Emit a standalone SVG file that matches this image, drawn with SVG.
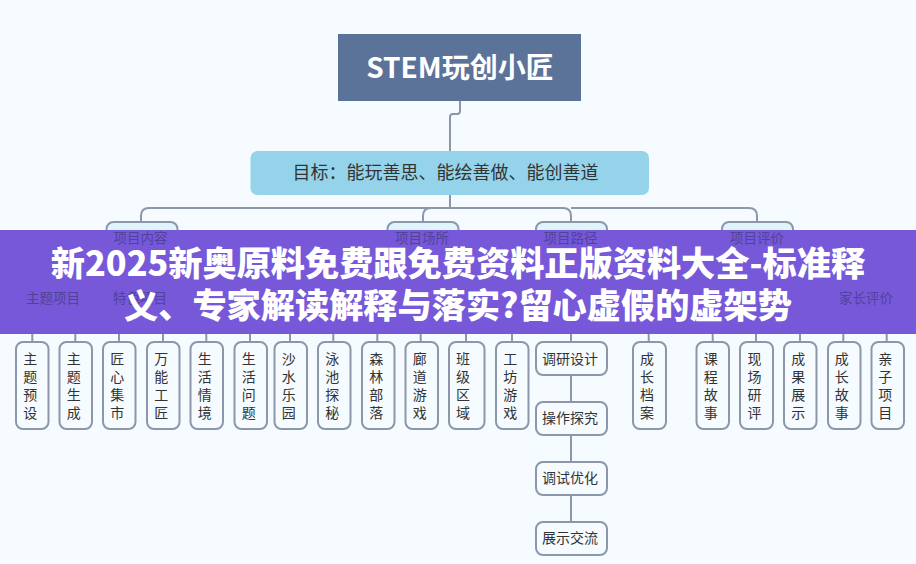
<svg xmlns="http://www.w3.org/2000/svg" width="916" height="564" viewBox="0 0 916 564">
<style>
text{font-family:"Noto Sans CJK SC","Noto Sans",sans-serif;text-anchor:middle}
.c{fill:none;stroke:#8c98aa;stroke-width:2}
.b{fill:#f5fbff;stroke:#8c98aa;stroke-width:2}
.l2{fill:#e0f4fc;stroke:#8c98aa;stroke-width:2}
.t{font-size:14px;fill:#333}
.g{font-size:13.5px;fill:#51439a}
.h{font-size:34.2px;font-weight:900;fill:#fff}
</style>
<rect width="916" height="564" fill="#f5fbff"/>
<g id="connectors" class="c">
<path d="M460 101V111Q460 114 457 114H453Q450 114 450 117V151"/>
<path d="M450 195V208"/>
<path d="M450 208H149Q141 208 141 216V222"/>
<path d="M450 208H431Q423 208 423 216V222"/>
<path d="M450 208H563Q571 208 571 216V222"/>
<path d="M571 208H749Q757 208 757 216V222"/>
<path d="M32.300 326V342M75.300 326V342M119 326V342M163 326V342M206.300 326V342M250 326V342M290 326V342M333.300 326V342M377.300 326V342M420.700 326V342M466 326V342M512 326V342M571 326V342M648.700 326V342M712.700 326V342M756 326V342M800 326V342M843.300 326V342M886.700 326V342"/>
<path d="M571 375V402M571 435V462M571 495V522"/>
</g>
<g id="root"><rect x="338" y="34" width="243" height="67" fill="#5b7399"/><text x="460" y="77.500" font-size="28" font-weight="700" fill="#fff">STEM玩创小匠</text></g>
<g id="goal"><rect x="250.500" y="151" width="398.500" height="44" rx="7" fill="#94d3ea"/><text x="445.500" y="179" font-size="18" fill="#333">目标：能玩善思、能绘善做、能创善道</text></g>
<g id="l2-content"><rect class="l2" x="106.500" y="222" width="71" height="34" rx="7"/></g>
<g id="l2-place"><rect class="l2" x="387.500" y="222" width="71" height="34" rx="7"/></g>
<g id="l2-path"><rect class="l2" x="536" y="222" width="71" height="34" rx="7"/></g>
<g id="l2-eval"><rect class="l2" x="722" y="222" width="71" height="34" rx="7"/></g>
<g id="n1"><rect class="b" x="16" y="342" width="32.500" height="87" rx="7"/><text class="t" x="30.300" y="364">主</text><text class="t" x="30.300" y="382">题</text><text class="t" x="30.300" y="400">预</text><text class="t" x="30.300" y="418">设</text></g>
<g id="n2"><rect class="b" x="59.500" y="342" width="32.500" height="87" rx="7"/><text class="t" x="73.800" y="364">主</text><text class="t" x="73.800" y="382">题</text><text class="t" x="73.800" y="400">生</text><text class="t" x="73.800" y="418">成</text></g>
<g id="n3"><rect class="b" x="103" y="342" width="32.500" height="87" rx="7"/><text class="t" x="117.300" y="364">匠</text><text class="t" x="117.300" y="382">心</text><text class="t" x="117.300" y="400">集</text><text class="t" x="117.300" y="418">市</text></g>
<g id="n4"><rect class="b" x="147" y="342" width="32.500" height="87" rx="7"/><text class="t" x="161.300" y="364">万</text><text class="t" x="161.300" y="382">能</text><text class="t" x="161.300" y="400">工</text><text class="t" x="161.300" y="418">匠</text></g>
<g id="n5"><rect class="b" x="190.500" y="342" width="32.500" height="87" rx="7"/><text class="t" x="204.800" y="364">生</text><text class="t" x="204.800" y="382">活</text><text class="t" x="204.800" y="400">情</text><text class="t" x="204.800" y="418">境</text></g>
<g id="n6"><rect class="b" x="234.500" y="342" width="32.500" height="87" rx="7"/><text class="t" x="248.800" y="364">生</text><text class="t" x="248.800" y="382">活</text><text class="t" x="248.800" y="400">问</text><text class="t" x="248.800" y="418">题</text></g>
<g id="n7"><rect class="b" x="274.500" y="342" width="32.500" height="87" rx="7"/><text class="t" x="288.800" y="364">沙</text><text class="t" x="288.800" y="382">水</text><text class="t" x="288.800" y="400">乐</text><text class="t" x="288.800" y="418">园</text></g>
<g id="n8"><rect class="b" x="318" y="342" width="32.500" height="87" rx="7"/><text class="t" x="332.300" y="364">泳</text><text class="t" x="332.300" y="382">池</text><text class="t" x="332.300" y="400">探</text><text class="t" x="332.300" y="418">秘</text></g>
<g id="n9"><rect class="b" x="362" y="342" width="32.500" height="87" rx="7"/><text class="t" x="376.300" y="364">森</text><text class="t" x="376.300" y="382">林</text><text class="t" x="376.300" y="400">部</text><text class="t" x="376.300" y="418">落</text></g>
<g id="n10"><rect class="b" x="405.500" y="342" width="32.500" height="87" rx="7"/><text class="t" x="419.800" y="364">廊</text><text class="t" x="419.800" y="382">道</text><text class="t" x="419.800" y="400">游</text><text class="t" x="419.800" y="418">戏</text></g>
<g id="n11"><rect class="b" x="449" y="342" width="35.500" height="87" rx="7"/><text class="t" x="463" y="364">班</text><text class="t" x="463" y="382">级</text><text class="t" x="463" y="400">区</text><text class="t" x="463" y="418">域</text></g>
<g id="n12"><rect class="b" x="496" y="342" width="32.500" height="87" rx="7"/><text class="t" x="510.300" y="364">工</text><text class="t" x="510.300" y="382">坊</text><text class="t" x="510.300" y="400">游</text><text class="t" x="510.300" y="418">戏</text></g>
<g id="n13"><rect class="b" x="536" y="342" width="71" height="33" rx="7"/><text class="t" x="570" y="363.500">调研设计</text></g>
<g id="n14"><rect class="b" x="536" y="402" width="71" height="33" rx="7"/><text class="t" x="570" y="423">操作探究</text></g>
<g id="n15"><rect class="b" x="536" y="462" width="71" height="33" rx="7"/><text class="t" x="570" y="483">调试优化</text></g>
<g id="n16"><rect class="b" x="536" y="522" width="71" height="33" rx="7"/><text class="t" x="570" y="543">展示交流</text></g>
<g id="n17"><rect class="b" x="633" y="342" width="33" height="87" rx="7"/><text class="t" x="647" y="364">成</text><text class="t" x="647" y="382">长</text><text class="t" x="647" y="400">档</text><text class="t" x="647" y="418">案</text></g>
<g id="n18"><rect class="b" x="696.500" y="342" width="32.500" height="87" rx="7"/><text class="t" x="710.800" y="364">课</text><text class="t" x="710.800" y="382">程</text><text class="t" x="710.800" y="400">故</text><text class="t" x="710.800" y="418">事</text></g>
<g id="n19"><rect class="b" x="740" y="342" width="33" height="87" rx="7"/><text class="t" x="754.500" y="364">现</text><text class="t" x="754.500" y="382">场</text><text class="t" x="754.500" y="400">研</text><text class="t" x="754.500" y="418">评</text></g>
<g id="n20"><rect class="b" x="784" y="342" width="32.500" height="87" rx="7"/><text class="t" x="798.300" y="364">成</text><text class="t" x="798.300" y="382">果</text><text class="t" x="798.300" y="400">展</text><text class="t" x="798.300" y="418">示</text></g>
<g id="n21"><rect class="b" x="828" y="342" width="32.500" height="87" rx="7"/><text class="t" x="841.800" y="364">成</text><text class="t" x="841.800" y="382">长</text><text class="t" x="841.800" y="400">故</text><text class="t" x="841.800" y="418">事</text></g>
<g id="n22"><rect class="b" x="871.500" y="342" width="32.500" height="87" rx="7"/><text class="t" x="885.300" y="364">亲</text><text class="t" x="885.300" y="382">子</text><text class="t" x="885.300" y="400">项</text><text class="t" x="885.300" y="418">目</text></g>
<g id="banner">
<rect x="0" y="230" width="916" height="104" fill="#7658d9"/>
<text class="g" x="140.500" y="243">项目内容</text>
<text class="g" x="422" y="243">项目场所</text>
<text class="g" x="570.500" y="243">项目路径</text>
<text class="g" x="757" y="243">项目评价</text>
<text class="g" x="53" y="303">主题项目</text>
<text class="g" x="140" y="303">特色项目</text>
<text class="g" x="866" y="303">家长评价</text>
<text class="h" x="458" y="275.500">新2025新奥原料免费跟免费资料正版资料大全-标准释</text>
<text class="h" x="458" y="317.500">义、专家解读解释与落实?留心虚假的虚架势</text>
</g>
</svg>
